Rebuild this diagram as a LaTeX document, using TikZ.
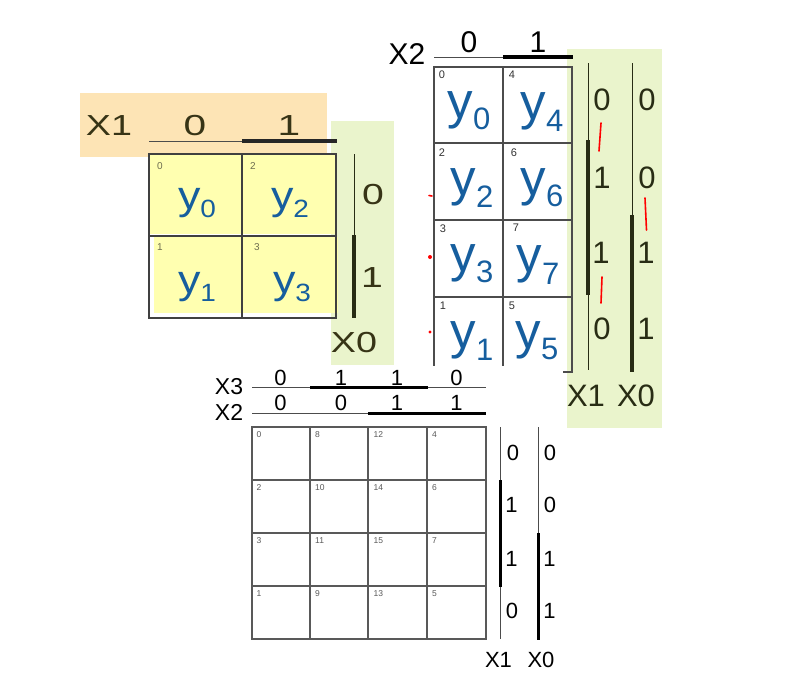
\documentclass[tikz,border=0pt]{standalone}
\usepackage{fontspec}
\setmainfont{Liberation Sans}
\newcommand{\fsz}[1]{\fontsize{#1}{#1}\selectfont}
\newcommand{\ysub}[3]{{\fsz{#1}y\raisebox{-0.22em}{\fsz{#2}#3}}}
\newcommand{\wide}[2]{\scalebox{#1}[1]{#2}}
\definecolor{orangebg}{RGB}{253,228,181}
\definecolor{greenbg}{RGB}{234,244,204}
\definecolor{yelbg}{RGB}{255,255,176}
\definecolor{yblue}{RGB}{22,94,158}
\definecolor{olivetxt}{RGB}{55,52,22}
\definecolor{greentxt}{RGB}{40,44,20}
\definecolor{numgray}{RGB}{110,110,80}
\tikzset{
  lab/.style={inner sep=0pt, anchor=center},
  m1lab/.style={lab, font=\fsz{29}, text=olivetxt},
  m2top/.style={lab, font=\fsz{30}, text=black},
  m2side/.style={lab, font=\fsz{31}, text=greentxt},
  m3lab/.style={lab, font=\fsz{22}, text=black},
  ycell/.style={lab, text=yblue},
  num1/.style={inner sep=0pt, anchor=center, font=\fsz{10}, text=numgray},
  num2/.style={inner sep=0pt, anchor=center, font=\fsz{11}, text=black!80},
  num3/.style={inner sep=0pt, anchor=north west, font=\fsz{8.5}, text=black!65},
  gridA/.style={draw=black!75, line width=1.3pt},
  gridB/.style={draw=black!70, line width=1.2pt},
  gridC/.style={draw=black!65, line width=1.1pt},
  thinbar/.style={draw=black!70, line width=1pt},
  thickbar/.style={draw=black, line width=3.5pt},
  thinbarG/.style={draw=greentxt, line width=1pt},
  thickbarG/.style={draw=greentxt, line width=4pt},
  thickbarC/.style={draw=black, line width=3pt},
  redmark/.style={draw=red, line width=1.6pt, line cap=round}
}
\begin{document}
\begin{tikzpicture}[x=1pt,y=-1pt]
\useasboundingbox (0,0) rectangle (800,672);
\fill[white] (0,0) rectangle (800,672);

% ---------------- map 1 (2 variables)
\fill[orangebg] (80,93) rectangle (327,157);
\fill[greenbg] (331,121) rectangle (394,365);
\fill[yelbg] (150,155) rectangle (241,234);
\fill[yelbg] (243,155) rectangle (335,234);
\fill[yelbg] (154,237) rectangle (241,313);
\fill[yelbg] (243,237) rectangle (338,313);
\draw[gridA] (149,154) rectangle (336,318);
\draw[gridA] (242,154) -- (242,318);
\draw[gridA] (149,236) -- (336,236);
\draw[thinbar] (149,141) -- (242,141);
\draw[thickbar, draw=black!85] (242,141) -- (337,141);
\draw[thinbarG] (354,154) -- (354,235);
\draw[thickbarG] (354,235) -- (354,318);

\node[m1lab] (aX1) at (109,126) {\wide{1.3}{X1}};
\node[m1lab] (aT0) at (195,126) {\wide{1.4}{0}};
\node[m1lab] (aT1) at (289,126) {\wide{1.4}{1}};
\node[m1lab] (aR0) at (373,195) {\wide{1.35}{0}};
\node[m1lab] (aR1) at (372,278) {\wide{1.35}{1}};
\node[m1lab] (aX0) at (354,343) {\wide{1.3}{X0}};

\node[num1] (an0) at (160,166) {0};
\node[num1] (an2) at (253,166) {2};
\node[num1] (an1) at (160,247) {1};
\node[num1] (an3) at (257,247) {3};

\node[ycell] (ay0) at (197,203) {\wide{1.12}{\ysub{40}{25}{0}}};
\node[ycell] (ay2) at (290,203) {\wide{1.12}{\ysub{40}{25}{2}}};
\node[ycell] (ay1) at (197,287) {\wide{1.12}{\ysub{40}{25}{1}}};
\node[ycell] (ay3) at (292,287) {\wide{1.12}{\ysub{40}{25}{3}}};

% ---------------- map 2 (3 variables)
\fill[greenbg] (567,49) rectangle (662,428);
\draw[gridB] (434,67) rectangle (572,372);
\draw[gridB] (503,67) -- (503,372);
\draw[gridB] (434,143) -- (572,143);
\draw[gridB] (434,220) -- (572,220);
\draw[gridB] (434,297) -- (572,297);
\draw[thinbar] (434,57) -- (503,57);
\draw[thickbar] (503,57) -- (573,57);

\draw[thinbarG] (588,63) -- (588,140);
\draw[thickbarG] (588,140) -- (588,295);
\draw[thinbarG] (588,295) -- (588,370);
\draw[thinbarG] (632,63) -- (632,215);
\draw[thickbarG] (632,215) -- (632,372);

\node[m2top] (bX2) at (407,54) {X2};
\node[m2top] (bT0) at (469,42) {0};
\node[m2top] (bT1) at (538,42) {1};

\node[m2side] (bA0) at (602,100) {0};
\node[m2side] (bB0) at (647,100) {0};
\node[m2side] (bA1) at (602,178) {1};
\node[m2side] (bB1) at (647,178) {0};
\node[m2side] (bA2) at (601,253) {1};
\node[m2side] (bB2) at (646,253) {1};
\node[m2side] (bA3) at (602,329) {0};
\node[m2side] (bB3) at (646,329) {1};
\node[m2side] (bX1) at (586,396) {X1};
\node[m2side] (bX0) at (636,396) {X0};

\node[num2] (bn0) at (442,75) {0};
\node[num2] (bn4) at (512,75) {4};
\node[num2] (bn2) at (442,153) {2};
\node[num2] (bn6) at (514,153) {6};
\node[num2] (bn3) at (443,229) {3};
\node[num2] (bn7) at (516,228) {7};
\node[num2] (bn1) at (443,306) {1};
\node[num2] (bn5) at (512,306) {5};

\node[ycell] (by0) at (469,111) {\ysub{51}{31}{0}};
\node[ycell] (by4) at (542,112) {\ysub{51}{31}{4}};
\node[ycell] (by2) at (472,188) {\ysub{51}{31}{2}};
\node[ycell] (by6) at (542,188) {\ysub{51}{31}{6}};
\node[ycell] (by3) at (472,264) {\ysub{51}{31}{3}};
\node[ycell] (by7) at (538,265) {\ysub{51}{31}{7}};
\node[ycell] (by1) at (472,341) {\ysub{51}{31}{1}};
\node[ycell] (by5) at (537,341) {\ysub{51}{31}{5}};

\draw[redmark] (601,123) -- (599,151);
\draw[redmark] (645,198) -- (646.5,230);
\draw[redmark] (602,277) -- (601,303);
\draw[redmark] (429,195.5) -- (432,196);
\fill[red] (430,257) circle (2);
\fill[red] (430,332) circle (1.6);

% white sheet of map 3 over the bottom of map 2
\fill[white] (196,366) rectangle (563,672);

% ---------------- map 3 (4 variables)
\draw[gridC] (252,427) rectangle (486,639);
\foreach \xx in {310,368,427} \draw[gridC] (\xx,427) -- (\xx,639);
\foreach \yy in {480,533,586} \draw[gridC] (252,\yy) -- (486,\yy);

\draw[thinbar] (252,387) -- (310,387);
\draw[thickbarC] (310,387) -- (428,387);
\draw[thinbar] (428,387) -- (486,387);
\draw[thinbar] (252,413) -- (368,413);
\draw[thickbarC] (368,413) -- (486,413);

\draw[thinbar] (500,427) -- (500,480);
\draw[thickbarC] (500,480) -- (500,587);
\draw[thinbar] (500,587) -- (500,639);
\draw[thinbar] (538,427) -- (538,533);
\draw[thickbarC] (538,533) -- (538,640);

\node[m3lab, font=\fsz{23}] (cX3) at (229,386.5) {X3};
\node[m3lab, font=\fsz{23}] (cX2) at (229,412) {X2};
\node[m3lab] (ct0) at (280.5,377.5) {0};
\node[m3lab] (ct1) at (341,377.5) {1};
\node[m3lab] (ct2) at (397,377.5) {1};
\node[m3lab] (ct3) at (456.5,377.5) {0};
\node[m3lab] (cu0) at (280.5,403) {0};
\node[m3lab] (cu1) at (341,403) {0};
\node[m3lab] (cu2) at (397,403) {1};
\node[m3lab] (cu3) at (456.5,403) {1};

\node[m3lab] (cr0) at (513,453) {0};
\node[m3lab] (cs0) at (550,453) {0};
\node[m3lab] (cr1) at (511.5,505) {1};
\node[m3lab] (cs1) at (550,505) {0};
\node[m3lab] (cr2) at (511.5,559) {1};
\node[m3lab] (cs2) at (549.5,559) {1};
\node[m3lab] (cr3) at (512,610.5) {0};
\node[m3lab] (cs3) at (549.5,610.5) {1};
\node[m3lab] (cX1) at (498.5,659.5) {X1};
\node[m3lab] (cX0) at (541,659.5) {X0};

\foreach \lab [count=\i from 0] in {0,8,12,4,2,10,14,6,3,11,15,7,1,9,13,5}{
  \pgfmathtruncatemacro{\row}{int(\i/4)}
  \pgfmathtruncatemacro{\col}{mod(\i,4)}
  \pgfmathsetmacro{\cx}{252+\col*58.5+4.5}
  \pgfmathsetmacro{\cy}{427+\row*53+4.5}
  \node[num3] (cn\lab) at (\cx,\cy) {\lab};
}
\end{tikzpicture}
\end{document}
